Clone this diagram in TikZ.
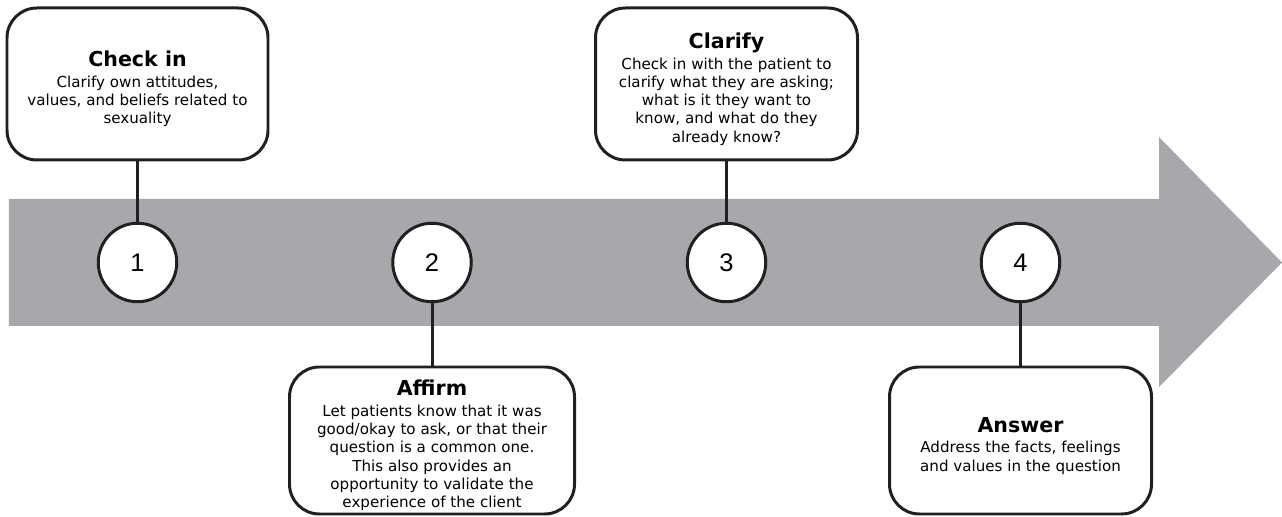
\documentclass[tikz,border=0pt]{standalone}
\usepackage{fontspec}
\setmainfont{DejaVu Sans}
\newfontfamily\numfont{Liberation Sans}
\usepackage{tikz}
\usetikzlibrary{positioning}
\definecolor{ArrowGray}{RGB}{166,168,172}
\definecolor{InkBlack}{RGB}{35,31,32}
\tikzset{
  card/.style={draw=InkBlack, line width=1.7pt, rounded corners=17pt, fill=white, align=center,
    inner xsep=3pt, inner ysep=0pt, font=\fontsize{8.6}{10.4}\selectfont},
  badge/.style={draw=InkBlack, line width=1.7pt, circle, fill=white, minimum size=1.57cm, inner sep=0pt,
    font=\numfont\fontsize{14.5}{16}\selectfont},
  stem/.style={draw=InkBlack, line width=1.7pt}
}
\newcommand{\steptitle}[1]{{\fontsize{11.7}{12.5}\selectfont\bfseries\rule{0pt}{14.6pt}#1}}
\begin{document}
\begin{tikzpicture}
\useasboundingbox (0,0) rectangle (25.64,10.34);
% timeline arrow
\fill[ArrowGray] (0.18,3.82) -- (23.18,3.82) -- (23.18,2.6) -- (25.64,5.09) -- (23.18,7.6) -- (23.18,6.36) -- (0.18,6.36) -- cycle;
% numbered steps
\node[badge] (c1) at (2.75,5.09) {1};
\node[badge] (c2) at (8.64,5.09) {2};
\node[badge] (c3) at (14.53,5.09) {3};
\node[badge] (c4) at (20.41,5.09) {4};
% boxes
\node[card, minimum width=5.22cm, minimum height=3.04cm] (b1) at (2.75,8.66)
  {\steptitle{Check in}\\[1.4pt]Clarify own attitudes,\\values, and beliefs related to\\sexuality};
\node[card, minimum width=5.7cm, minimum height=2.94cm] (b2) at (8.64,1.53)
  {\steptitle{Affirm}\\[1.4pt]Let patients know that it was\\good/okay to ask, or that their\\question is a common one.\\This also provides an\\opportunity to validate the\\experience of the client};
\node[card, minimum width=5.24cm, minimum height=3.04cm] (b3) at (14.53,8.66)
  {\steptitle{Clarify}\\[1.4pt]Check in with the patient to\\clarify what they are asking;\\what is it they want to\\know, and what do they\\already know?};
\node[card, minimum width=5.24cm, minimum height=2.94cm] (b4) at (20.41,1.53)
  {\steptitle{Answer}\\[1.4pt]Address the facts, feelings\\and values in the question};
\draw[stem] (b1) -- (c1); \draw[stem] (b2) -- (c2);
\draw[stem] (b3) -- (c3); \draw[stem] (b4) -- (c4);
\end{tikzpicture}
\end{document}
